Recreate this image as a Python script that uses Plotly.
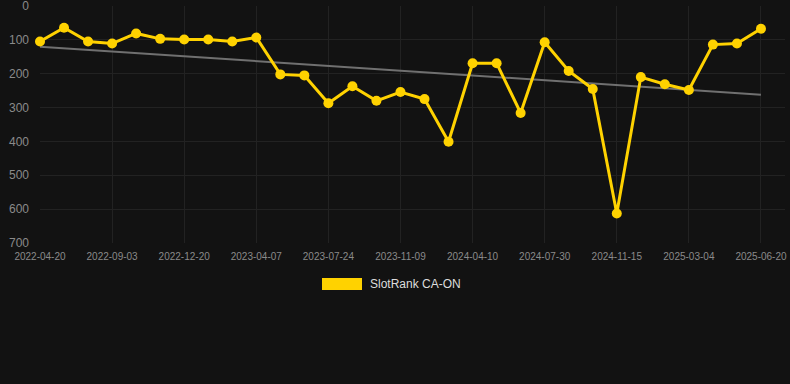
import plotly.graph_objects as go

dates = ["2022-04-20", "2022-06-05", "2022-07-20", "2022-09-03", "2022-10-09", "2022-11-14",
         "2022-12-20", "2023-01-25", "2023-03-02", "2023-04-07", "2023-05-13", "2023-06-18",
         "2023-07-24", "2023-08-29", "2023-10-04", "2023-11-09", "2023-12-30", "2024-02-19",
         "2024-04-10", "2024-05-17", "2024-06-23", "2024-07-30", "2024-09-05", "2024-10-10",
         "2024-11-15", "2024-12-21", "2025-01-27", "2025-03-04", "2025-04-09", "2025-05-15",
         "2025-06-20"]
ranks = [105, 64, 105, 111, 81, 97, 99, 99, 105, 93, 202, 205, 287, 237, 280, 254, 275, 401,
         169, 169, 316, 107, 192, 245, 613, 210, 231, 248, 114, 111, 67]
trend_x = [dates[0], dates[-1]]
trend_y = [120, 262]
tick_labels = dates[::3]
y_ticks = [0, 100, 200, 300, 400, 500, 600, 700]
series_name = "SlotRank CA-ON"

bg = "#121212"
gold = "#FFD200"

fig = go.Figure()
fig.add_trace(go.Scatter(x=trend_x, y=trend_y, mode="lines",
                         line=dict(color="#707070", width=2), showlegend=False,
                         hoverinfo="skip"))
fig.add_trace(go.Scatter(x=dates, y=ranks, mode="lines+markers", name=series_name,
                         line=dict(color=gold, width=3), marker=dict(color=gold, size=10),
                         cliponaxis=False, showlegend=False))

fig.update_layout(
    width=790, height=384,
    paper_bgcolor=bg, plot_bgcolor=bg,
    margin=dict(l=40, r=5, t=6, b=141, autoexpand=False),
    font=dict(family="Liberation Sans, Arial, sans-serif", color="#8a8a8a"),
    showlegend=False,
    xaxis=dict(type="category", categoryorder="array", categoryarray=dates,
               range=[0, 31.0], tickmode="array", tickvals=tick_labels, ticktext=tick_labels,
               tickfont=dict(size=10, color="#8a8a8a"), showgrid=True, gridcolor="#222222",
               gridwidth=1, zeroline=False, showline=False, ticks="", ticklabelstandoff=6,
               automargin=False, ticklabeloverflow="allow"),
    yaxis=dict(range=[700, 0], tickvals=y_ticks, tickfont=dict(size=12, color="#8a8a8a"),
               showgrid=True, gridcolor="#222222", gridwidth=1, zeroline=False,
               showline=False, ticks="", ticklabelstandoff=10, automargin=False,
               ticklabeloverflow="allow"),
)

# legend swatch + label below the plot
fig.add_shape(type="rect", xref="paper", yref="paper",
              x0=(322 - 40) / 745, x1=(362 - 40) / 745,
              y0=(243 - 290) / 237, y1=(243 - 278) / 237,
              fillcolor=gold, line=dict(width=0))
fig.add_annotation(xref="paper", yref="paper", x=(368 - 40) / 745, y=(243 - 284) / 237,
                   text=series_name, showarrow=False, xanchor="left", yanchor="middle",
                   font=dict(size=12, color="#dddddd"))

fig.write_html("out.html", config={"displayModeBar": False},
               post_script="document.body.style.margin='0';document.body.style.background='#121212';")
